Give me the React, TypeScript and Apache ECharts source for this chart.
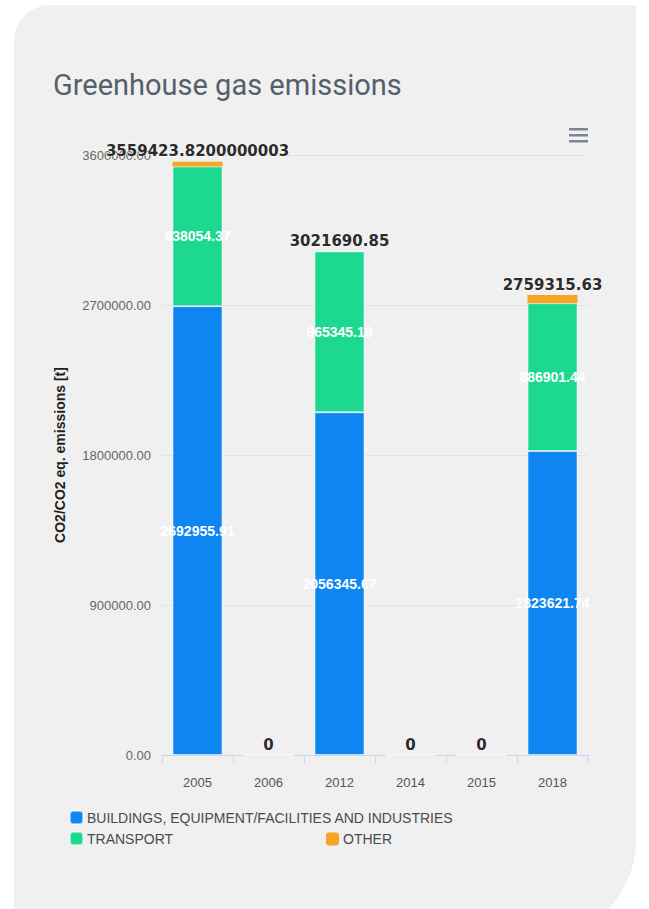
import React, { useEffect, useRef } from "react";
import * as echarts from "echarts";

const categories = ["2005", "2006", "2012", "2014", "2015", "2018"];
const seriesNames = [
  "BUILDINGS, EQUIPMENT/FACILITIES AND INDUSTRIES",
  "TRANSPORT",
  "OTHER",
];
const buildings = [2692955.91, 0, 2056345.67, 0, 0, 1823621.74];
const transport = [838054.37, 0, 965345.18, 0, 0, 886901.44];
const other = [28413.54, 0, 0, 0, 0, 48792.45];
const totalLabels = ["3559423.8200000003", "0", "3021690.85", "0", "0", "2759315.63"];
const yMin = 0;
const yMax = 3600000;
const yInterval = 900000;

const colors = ["#0d86f2", "#1dd88f", "#f6a623"];

export default function App() {
  const ref = useRef<HTMLDivElement>(null);

  useEffect(() => {
    if (!ref.current) return;
    const chart = echarts.init(ref.current, null, { renderer: "svg" });
    const insideLabel = {
      show: true,
      position: "inside",
      color: "#ffffff",
      fontFamily: "Liberation Sans, Arial, sans-serif",
      fontWeight: "bold",
      fontSize: 14,
      formatter: (p: any) => (p.value ? String(p.value) : ""),
    };
    const legendText = {
      fontFamily: "Liberation Sans, Arial, sans-serif",
      fontSize: 14,
      color: "#4a4a4a",
      padding: [0, 0, 0, -1],
    };
    chart.setOption({
      animation: false,
      backgroundColor: "transparent",
      title: {
        text: "Greenhouse gas emissions",
        left: 48,
        top: 65,
        textStyle: {
          fontFamily: "Roboto, sans-serif",
          fontSize: 29,
          fontWeight: "normal",
          color: "#575f6c",
        },
      },
      grid: { left: 162, right: 61, top: 155, bottom: 154, containLabel: false },
      legend: [
        {
          data: [seriesNames[0], seriesNames[1]],
          orient: "vertical",
          left: 64,
          top: 805,
          itemGap: 6,
          itemWidth: 13,
          itemHeight: 13,
          icon: "roundRect",
          selectedMode: false,
          textStyle: legendText,
        },
        {
          data: [seriesNames[2]],
          orient: "vertical",
          left: 321,
          top: 827,
          itemWidth: 13,
          itemHeight: 13,
          icon: "roundRect",
          selectedMode: false,
          textStyle: legendText,
        },
      ],
      xAxis: {
        type: "category",
        data: categories,
        axisLine: { lineStyle: { color: "#ccd6eb" } },
        axisTick: { show: true, length: 8, lineStyle: { color: "#ccd6eb" } },
        axisLabel: {
          color: "#555555",
          fontFamily: "Liberation Sans, Arial, sans-serif",
          fontSize: 13,
          margin: 21,
        },
      },
      yAxis: {
        type: "value",
        min: yMin,
        max: yMax,
        interval: yInterval,
        name: "CO2/CO2 eq. emissions [t]",
        nameLocation: "middle",
        nameRotate: 90,
        nameGap: 95,
        nameTextStyle: {
          fontFamily: "Liberation Sans, Arial, sans-serif",
          fontWeight: "bold",
          fontSize: 14,
          color: "#222222",
        },
        axisLine: { show: false },
        axisTick: { show: false },
        axisLabel: {
          color: "#666666",
          fontFamily: "Liberation Sans, Arial, sans-serif",
          fontSize: 13,
          margin: 11,
          formatter: (v: number) => v.toFixed(2),
        },
        splitLine: { lineStyle: { color: "#e3e3e3" } },
      },
      graphic: [
        { type: "rect", left: 569, top: 128, shape: { width: 19, height: 2.5 }, style: { fill: "#7d8590" } },
        { type: "rect", left: 569, top: 134, shape: { width: 19, height: 2.5 }, style: { fill: "#7d8590" } },
        { type: "rect", left: 569, top: 140, shape: { width: 19, height: 2.5 }, style: { fill: "#7d8590" } },
      ],
      series: [
        {
          name: seriesNames[0],
          type: "bar",
          stack: "total",
          data: buildings,
          barWidth: 50,
          itemStyle: { color: colors[0], borderColor: "rgba(255,255,255,0.5)", borderWidth: 1 },
          label: insideLabel,
        },
        {
          name: seriesNames[1],
          type: "bar",
          stack: "total",
          data: transport,
          barWidth: 50,
          itemStyle: { color: colors[1], borderColor: "rgba(255,255,255,0.5)", borderWidth: 1 },
          label: insideLabel,
        },
        {
          name: seriesNames[2],
          type: "bar",
          stack: "total",
          data: other,
          barWidth: 50,
          itemStyle: { color: colors[2] },
          label: {
            show: true,
            position: "top",
            distance: 3,
            color: "#2b2b2b",
            fontFamily: "DejaVu Sans, Verdana, sans-serif",
            fontWeight: "bold",
            fontSize: 15,
            textBorderColor: "rgba(255,255,255,0.8)",
            textBorderWidth: 1,
            formatter: (p: any) => totalLabels[p.dataIndex],
          },
        },
      ],
    });
    return () => chart.dispose();
  }, []);

  return (
    <div
      style={{
        position: "fixed",
        left: 0,
        top: 0,
        width: 649,
        height: 909,
        background: "#ffffff",
        overflow: "hidden",
      }}
    >
      <div
        style={{
          position: "absolute",
          left: 14,
          top: 5,
          width: 622,
          height: 935,
          background: "#f0f0f0",
          borderRadius: "36px 0 100px 0",
        }}
      />
      <div
        ref={ref}
        style={{ position: "absolute", left: 0, top: 0, width: 649, height: 909 }}
      />
    </div>
  );
}
